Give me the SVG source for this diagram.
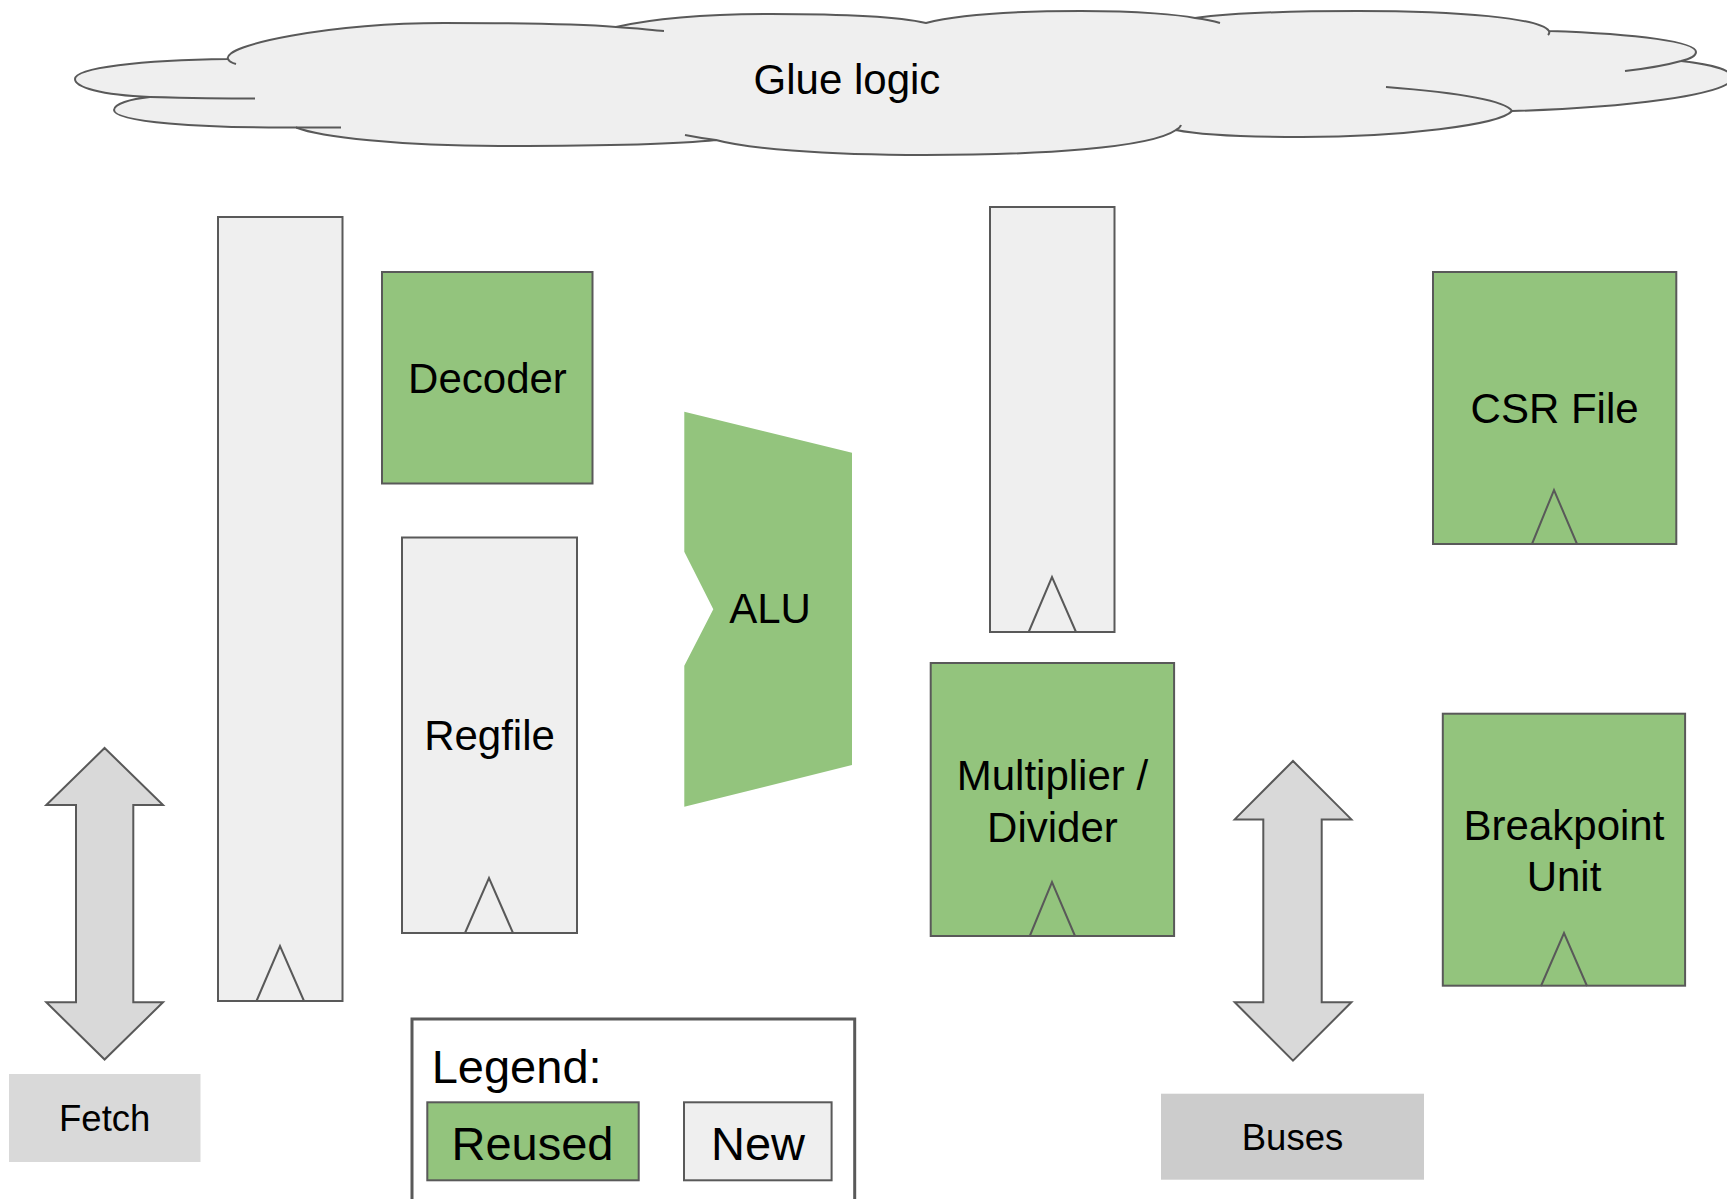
<svg xmlns="http://www.w3.org/2000/svg" width="1727" height="1199" viewBox="0 0 1727 1199">
<style>
text{font-family:"Liberation Sans",Arial,sans-serif;fill:#000;text-anchor:middle}
.t42{font-size:42px}
.t36{font-size:36.5px}
.t47{font-size:47px}
.green{fill:#93c47d;stroke:#595959;stroke-width:2}
.new{fill:#efefef;stroke:#595959;stroke-width:2}
.clk{fill:none;stroke:#595959;stroke-width:2;stroke-linejoin:miter}
.arr{fill:#d9d9d9;stroke:#595959;stroke-width:2}
.cl{fill:none;stroke:#595959;stroke-width:2}
</style>
<rect width="1727" height="1199" fill="#ffffff"/>
<g id="glue-logic">
<path d="M 228,59 C 222,45 330,23 444,23 C 530,23 590,25 616,27 C 660,17 710,14 771,14 C 840,14 900,17 926,23 C 960,14 1020,11 1081,11 C 1140,11 1180,15 1195,18 C 1240,12 1300,11 1358,11 C 1460,11 1540,18 1549,31 C 1640,34 1696,42 1696,52 C 1696,56 1690,59 1681,61 C 1715,65 1732,70 1732,78 C 1732,95 1620,108 1512,111 C 1500,125 1400,137 1302,137 C 1250,137 1200,135 1176,130 C 1150,148 1040,155 925,155 C 820,155 745,148 716,140 C 680,144 590,146 499,146 C 400,146 320,137 296,127.5 C 200,128 114,122 114,110 C 114,104 130,99 150,97 C 100,95 75,87 75,79 C 75,68 140,60 228,59 Z" fill="#efefef" stroke="#595959" stroke-width="2"/>
<path class="cl" d="M 228,59 Q 229,62 236,64"/>
<path class="cl" d="M 616,27 C 635,28 650,30 664,31"/>
<path class="cl" d="M 1195,18 Q 1210,20 1220,23"/>
<path class="cl" d="M 1549,31 Q 1550,33 1548,35"/>
<path class="cl" d="M 1681,61 Q 1660,67 1625,71"/>
<path class="cl" d="M 1386,87 C 1450,92 1505,100 1512,111"/>
<path class="cl" d="M 1176,130 Q 1180,128 1181,125"/>
<path class="cl" d="M 716,140 Q 700,138 685,135"/>
<path class="cl" d="M 296,127.5 L 341,127.5"/>
<path class="cl" d="M 150,97 C 190,98 230,98.5 255,98.5"/>
<text class="t42" x="847" y="94">Glue logic</text>
</g>
<g id="pipe-reg-1">
<rect class="new" x="218" y="217" width="124.5" height="784"/>
<polyline class="clk" points="256.5,1001 280,946 304,1001"/>
</g>
<g id="decoder">
<rect class="green" x="382" y="272" width="210.5" height="211.5"/>
<text class="t42" x="487.5" y="393">Decoder</text>
</g>
<g id="regfile">
<rect class="new" x="402" y="537.5" width="175" height="395.5"/>
<polyline class="clk" points="465,933 489,878 513,933"/>
<text class="t42" x="489.5" y="750">Regfile</text>
</g>
<g id="alu">
<polygon points="684.3,411.7 852,452.7 852,765 684.3,806.7 684.3,665.7 713.3,609.3 684.3,551.7" fill="#93c47d"/>
<text class="t42" x="770" y="623">ALU</text>
</g>
<g id="pipe-reg-2">
<rect class="new" x="990" y="207" width="124.5" height="425"/>
<polyline class="clk" points="1028.7,632 1052,577 1076,632"/>
</g>
<g id="muldiv">
<rect class="green" x="930.7" y="663" width="243.4" height="273"/>
<polyline class="clk" points="1029.8,936 1052,882 1075,936"/>
<text class="t42" x="1052.4" y="789.5">Multiplier /</text>
<text class="t42" x="1052.4" y="841.5">Divider</text>
</g>
<g id="csr-file">
<rect class="green" x="1433" y="272" width="243.3" height="272"/>
<polyline class="clk" points="1532,544 1554,490 1577,544"/>
<text class="t42" x="1554.6" y="423">CSR File</text>
</g>
<g id="breakpoint-unit">
<rect class="green" x="1442.8" y="713.7" width="242.3" height="272"/>
<polyline class="clk" points="1541,986 1564,933 1587,986"/>
<text class="t42" x="1564" y="839.5">Breakpoint</text>
<text class="t42" x="1564" y="891">Unit</text>
</g>
<g id="fetch">
<rect x="9" y="1074" width="191.5" height="88" fill="#d9d9d9"/>
<text class="t36" x="104.7" y="1131">Fetch</text>
</g>
<g id="buses">
<rect x="1161" y="1093.7" width="263" height="86" fill="#cccccc"/>
<text class="t36" x="1292.5" y="1150">Buses</text>
</g>
<g id="connectors">
<polygon class="arr" points="104.6,748 163,805 133.3,805 133.3,1002.3 163,1002.3 104.6,1059.5 46.3,1002.3 76,1002.3 76,805 46.3,805"/>
<polygon class="arr" points="1293,761 1351.4,819.4 1321.7,819.4 1321.7,1002.3 1351.4,1002.3 1293,1060.6 1234.7,1002.3 1263.3,1002.3 1263.3,819.4 1234.7,819.4"/>
</g>
<g id="legend">
<rect x="412" y="1019" width="442.7" height="200" fill="#ffffff" stroke="#595959" stroke-width="3"/>
<text class="t47" x="431.7" y="1083" style="text-anchor:start">Legend:</text>
<g id="legend-reused">
<rect class="green" x="427.3" y="1102.3" width="211.4" height="78"/>
<text class="t47" x="532.5" y="1159.5">Reused</text>
</g>
<g id="legend-new">
<rect class="new" x="684" y="1102.3" width="147.6" height="78"/>
<text class="t47" x="758" y="1159.5">New</text>
</g>
</g>
</svg>
